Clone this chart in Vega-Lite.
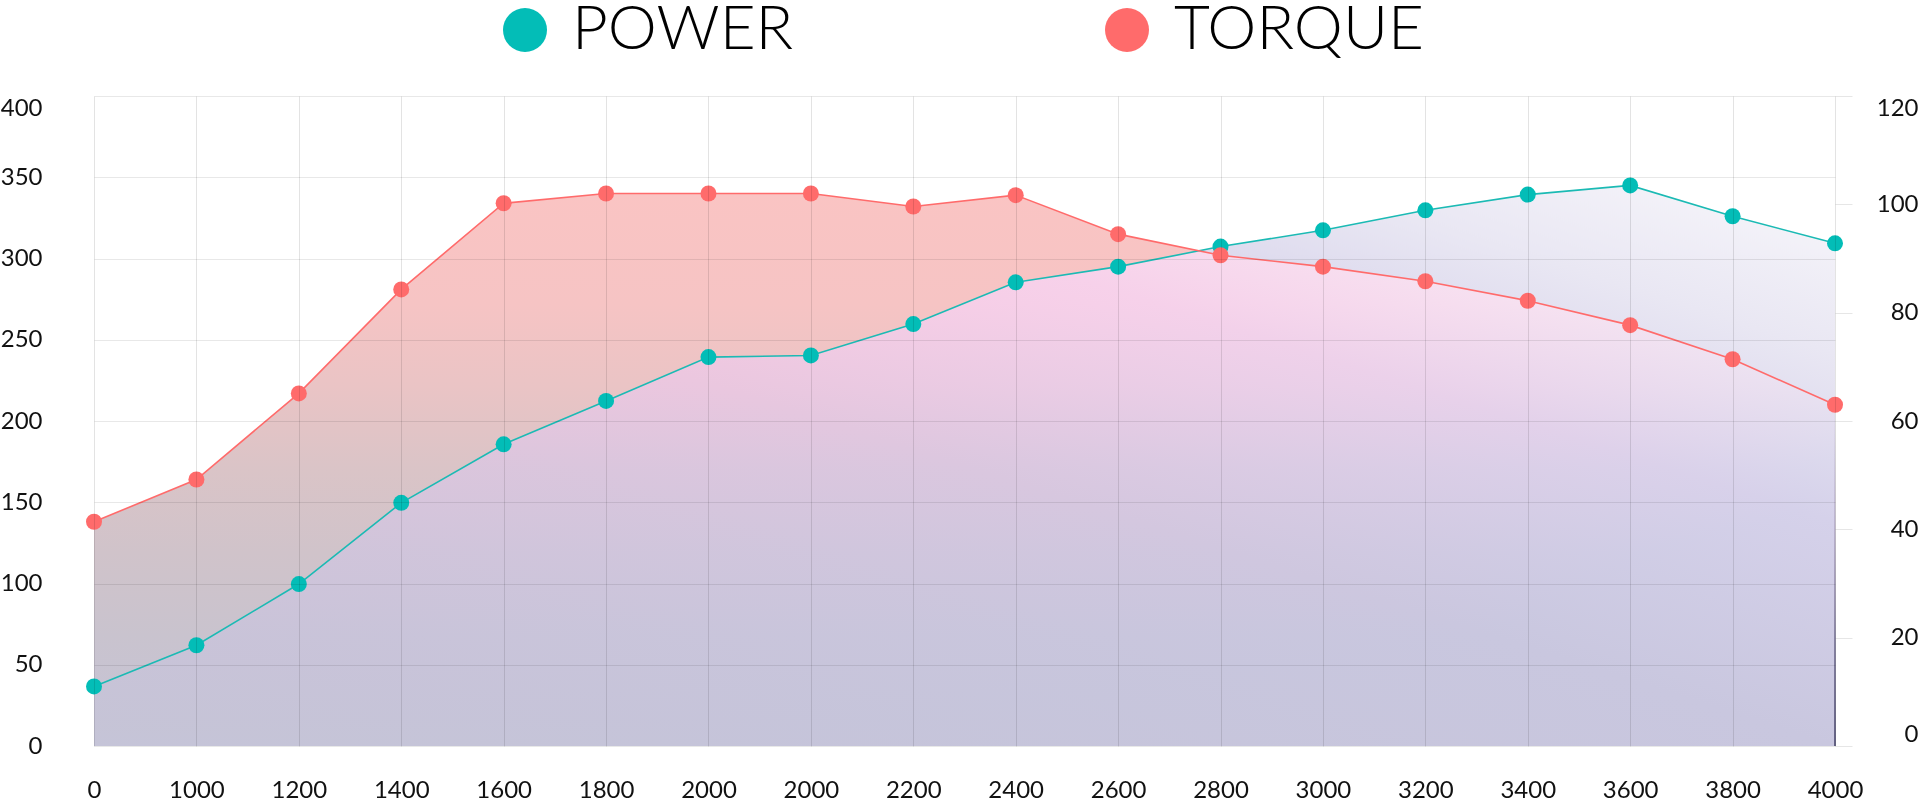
{
  "$schema": "https://vega.github.io/schema/vega-lite/v6.json",
  "width": 1741,
  "height": 650,
  "autosize": {"type": "none"},
  "padding": {"left": 94, "top": 96, "right": 85, "bottom": 55},
  "background": "#ffffff",
  "config": {
    "view": {"stroke": null},
    "font": "Lato",
    "axis": {"labelFont": "Lato", "labelFontSize": 24, "labelColor": "#111111", "domain": false, "title": null}
  },
  "data": {
    "values": [
      {"rpm": "0", "torque": 138, "power": 11.0},
      {"rpm": "1000", "torque": 164, "power": 18.6},
      {"rpm": "1200", "torque": 217, "power": 29.9},
      {"rpm": "1400", "torque": 281, "power": 44.9},
      {"rpm": "1600", "torque": 334, "power": 55.7},
      {"rpm": "1800", "torque": 340, "power": 63.7},
      {"rpm": "2000", "torque": 340, "power": 71.8},
      {"rpm": "2000\u200b", "torque": 340, "power": 72.1},
      {"rpm": "2200", "torque": 332, "power": 77.9},
      {"rpm": "2400", "torque": 339, "power": 85.6},
      {"rpm": "2600", "torque": 315, "power": 88.5},
      {"rpm": "2800", "torque": 302, "power": 92.2},
      {"rpm": "3000", "torque": 295, "power": 95.2},
      {"rpm": "3200", "torque": 286, "power": 98.9},
      {"rpm": "3400", "torque": 274, "power": 101.8},
      {"rpm": "3600", "torque": 259, "power": 103.5},
      {"rpm": "3800", "torque": 238, "power": 97.8},
      {"rpm": "4000", "torque": 210, "power": 92.8}
    ]
  },
  "encoding": {
    "x": {
      "field": "rpm",
      "type": "ordinal",
      "sort": null,
      "scale": {"type": "point", "padding": 0},
      "axis": {
        "labelAngle": 0,
        "ticks": false,
        "labelPadding": 32,
        "grid": true,
        "gridColor": "#000000",
        "gridOpacity": 0.11,
        "zindex": 1
      }
    }
  },
  "layer": [
    {
      "mark": {
        "type": "area",
        "color": {
          "gradient": "linear", "x1": 1, "y1": 0, "x2": 0, "y2": 1,
          "stops": [
            {"offset": 0, "color": "#F8F7FB"},
            {"offset": 0.15, "color": "#E9E7F3"},
            {"offset": 0.3, "color": "#D5D1EA"},
            {"offset": 0.5, "color": "#C9C7DF"},
            {"offset": 1, "color": "#C3C2D6"}
          ]
        }
      },
      "encoding": {"y": {"field": "power", "type": "quantitative", "scale": {"domain": [0, 120], "nice": false}, "axis": null}}
    },
    {
      "mark": {
        "type": "area",
        "color": {
          "gradient": "linear", "x1": 0, "y1": 0, "x2": 0, "y2": 1,
          "stops": [
            {"offset": 0, "color": "#FAC4C3"},
            {"offset": 0.2, "color": "#F6C4C4"},
            {"offset": 0.35, "color": "#EAC4C5"},
            {"offset": 0.5, "color": "#DAC4C7"},
            {"offset": 0.65, "color": "#D0C3CA"},
            {"offset": 0.8, "color": "#C9C3CE"},
            {"offset": 1, "color": "#C5C4D8"}
          ]
        }
      },
      "encoding": {"y": {"field": "torque", "type": "quantitative", "scale": {"domain": [0, 400], "nice": false}, "axis": null}}
    },
    {
      "mark": {
        "type": "area",
        "blend": "lighten",
        "color": {
          "gradient": "linear", "x1": 1, "y1": 0, "x2": 0, "y2": 1,
          "stops": [
            {"offset": 0, "color": "#F8F7FB"},
            {"offset": 0.15, "color": "#E9E7F3"},
            {"offset": 0.3, "color": "#D5D1EA"},
            {"offset": 0.5, "color": "#C9C7DF"},
            {"offset": 1, "color": "#C3C2D6"}
          ]
        }
      },
      "encoding": {"y": {"field": "power", "type": "quantitative", "scale": {"domain": [0, 120], "nice": false}, "axis": null}}
    },
    {
      "transform": [{"filter": "datum.rpm == '4000'"}],
      "mark": {
        "type": "bar",
        "width": 1.6,
        "color": {
          "gradient": "linear", "x1": 0, "y1": 0, "x2": 0, "y2": 1,
          "stops": [
            {"offset": 0, "color": "rgba(120,100,140,0)"},
            {"offset": 0.35, "color": "rgba(120,100,140,0.35)"},
            {"offset": 0.7, "color": "rgba(90,85,125,0.8)"},
            {"offset": 1, "color": "#48466E"}
          ]
        }
      },
      "encoding": {"y": {"field": "torque", "type": "quantitative", "scale": {"domain": [0, 400], "nice": false}, "axis": null}}
    },
    {
      "mark": {"type": "line", "color": "#1BBAB4", "strokeWidth": 1.6},
      "encoding": {
        "y": {
          "field": "power", "type": "quantitative",
          "scale": {"domain": [0, 120], "nice": false},
          "axis": {
            "orient": "right",
            "values": [0, 20, 40, 60, 80, 100, 120],
            "grid": false,
            "ticks": true,
            "tickSize": 17,
            "tickColor": "#e6e6e6",
            "labelAlign": "right",
            "labelPadding": 66,
            "labelFlush": true
          }
        }
      }
    },
    {
      "mark": {"type": "point", "filled": true, "size": 256, "opacity": 1},
      "encoding": {
        "y": {"field": "power", "type": "quantitative", "scale": {"domain": [0, 120], "nice": false}, "axis": null},
        "color": {
          "datum": "POWER",
          "type": "nominal",
          "scale": {"domain": ["POWER", "TORQUE"], "range": ["#03BDB7", "#FF6B6B"]},
          "legend": {
            "orient": "none",
            "legendX": 400,
            "legendY": -97,
            "direction": "horizontal",
            "title": null,
            "symbolType": "circle",
            "symbolSize": 1936,
            "symbolStrokeWidth": 0,
            "symbolOpacity": 1,
            "labelFont": "Lato",
            "labelFontSize": 62,
            "labelFontWeight": 300,
            "labelColor": "#000000",
            "labelOffset": 16,
            "labelLimit": 0,
            "columnPadding": 302
          }
        }
      }
    },
    {
      "mark": {"type": "line", "color": "#FF6B6B", "strokeWidth": 1.6},
      "encoding": {
        "y": {
          "field": "torque", "type": "quantitative",
          "scale": {"domain": [0, 400], "nice": false},
          "axis": {
            "orient": "left",
            "values": [0, 50, 100, 150, 200, 250, 300, 350, 400],
            "grid": true,
            "gridColor": "#000000",
            "gridOpacity": 0.09,
            "ticks": false,
            "labelPadding": 52,
            "labelBaseline": {"condition": {"test": "datum.value == 400", "value": "top"}, "value": "middle"},
            "zindex": 1
          }
        }
      }
    },
    {
      "mark": {"type": "point", "filled": true, "size": 256, "opacity": 1},
      "encoding": {
        "y": {"field": "torque", "type": "quantitative", "scale": {"domain": [0, 400], "nice": false}, "axis": null},
        "color": {"datum": "TORQUE", "type": "nominal"}
      }
    }
  ],
  "resolve": {"scale": {"y": "independent"}}
}
